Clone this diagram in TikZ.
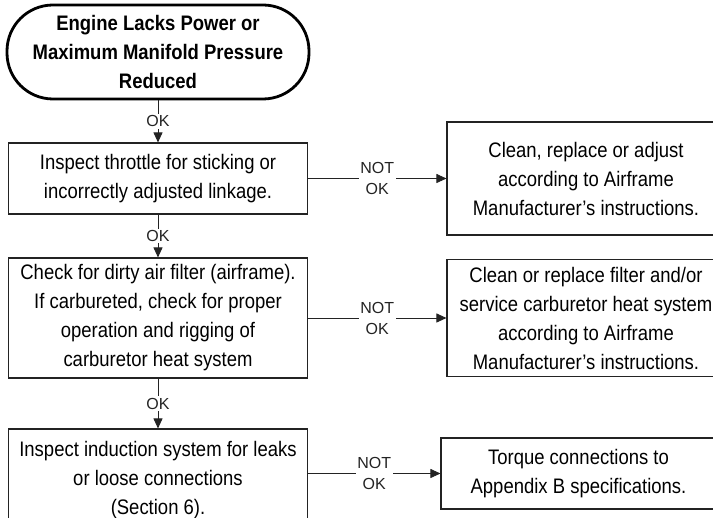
\documentclass[tikz,border=0pt]{standalone}
\usepackage{fontspec}
\setmainfont{Liberation Sans}[FakeStretch=0.88]
\newfontfamily\lblfont{Liberation Sans}
\usetikzlibrary{arrows.meta}
\definecolor{ts@line}{RGB}{35, 35, 35}

\begin{document}
\begin{tikzpicture}[x=1pt, y=-1pt,
  term/.style = {rectangle, rounded corners=46pt, draw=black, line width=2.8pt,
                 minimum width=302pt, minimum height=94pt, align=center,
                 font=\fontsize{21}{29}\bfseries\selectfont, inner sep=0pt},
  chk/.style  = {rectangle, draw=ts@line, line width=1.1pt, minimum width=299pt,
                 align=center, font=\fontsize{21}{29}\selectfont, inner sep=0pt},
  fix/.style  = {chk, minimum width=278pt},
  go/.style   = {-{Triangle[length=10pt,width=9pt]}, ts@line, line width=0.9pt},
  lbl/.style  = {font=\lblfont\fontsize{16}{21}\selectfont, align=center,
                 inner sep=1.5pt, fill=white},
]
  \clip (0,0) rectangle (713,518);

  \node[term] (start) at (158,52)    {Engine Lacks Power or\\Maximum Manifold Pressure\\Reduced};
  \node[chk, minimum height=71pt]  (thr) at (158,178.5) {Inspect throttle for sticking or\\incorrectly adjusted linkage.};
  \node[chk, minimum height=120pt] (fil) at (158,318)   {Check for dirty air filter (airframe).\\If carbureted, check for proper\\operation and rigging of\\carburetor heat system};
  \node[chk, minimum height=102pt] (ind) at (158,480)   {Inspect induction system for leaks\\or loose connections\\(Section 6).};

  \node[fix, minimum height=113pt] (adj) at (586,178.5) {Clean, replace or adjust\\according to Airframe\\Manufacturer's instructions.};
  \node[fix, minimum height=117pt] (svc) at (586,318)   {Clean or replace filter and/or\\service carburetor heat system\\according to Airframe\\Manufacturer's instructions.};
  \node[fix, minimum height=71pt, minimum width=275pt] (trq) at (578.5,473.5) {Torque connections to\\Appendix B specifications.};

  \draw[go] (start.south) -- (thr.north) node[lbl,midway] {OK};
  \draw[go] (thr.south)   -- (fil.north) node[lbl,midway] {OK};
  \draw[go] (fil.south)   -- (ind.north) node[lbl,midway] {OK};

  \draw[go] (thr.east) -- (adj.west) node[lbl,midway] {NOT\\OK};
  \draw[go] (fil.east) -- (svc.west) node[lbl,midway] {NOT\\OK};
  \draw[go] (ind.east |- trq.west) -- (trq.west) node[lbl,midway] {NOT\\OK};
\end{tikzpicture}
\end{document}
